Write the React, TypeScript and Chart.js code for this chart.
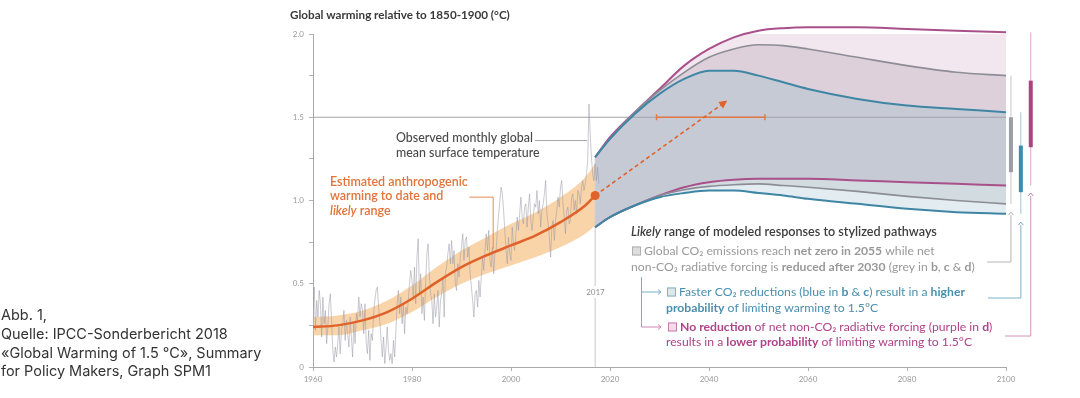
import React, { useEffect, useRef } from 'react';
import { Chart, registerables } from 'chart.js';

Chart.register(...registerables);

// ---------------- Data ----------------
const xTickYears = [1960, 1980, 2000, 2020, 2040, 2060, 2080, 2100];
const xTickLabels = ['1960', '1980', '2000', '2020', '2040', '2060', '2080', '2100'];
const yTickValues = [0, 0.25, 0.5, 0.75, 1, 1.25, 1.5, 1.75, 2];
const yTickLabels = ['0', '', '0.5', '', '1.0', '', '1.5', '', '2.0'];

// Observed monthly global mean surface temperature
const observedStartYear = 1960;
const observedStep = 0.25;
const obs1960s = [
  0.36, 0.48, 0.22, 0.40, 0.30, 0.46, 0.38, 0.18, 0.42, 0.26, 0.34, 0.14,
  0.24, 0.38, 0.44, 0.28, 0.10, 0.03, 0.12, 0.06, 0.14, 0.24, 0.08, 0.22,
  0.26, 0.34, 0.16, 0.28, 0.20, 0.12, 0.30, 0.18, 0.06, 0.26, 0.14, 0.32,
  0.28, 0.42, 0.30, 0.38,
];
const obs1970s = [
  0.34, 0.20, 0.38, 0.14, 0.08, 0.22, 0.04, 0.20, 0.16, 0.32, 0.40, 0.46,
  0.48, 0.36, 0.28, 0.16, 0.06, 0.18, 0.02, 0.12, 0.24, 0.10, 0.04, 0.08,
  0.02, 0.16, 0.06, 0.22, 0.38, 0.46, 0.32, 0.42, 0.26, 0.38, 0.20, 0.36,
  0.32, 0.40, 0.50, 0.58,
];
const obs1980s = [
  0.52, 0.42, 0.60, 0.38, 0.66, 0.77, 0.44, 0.56, 0.32, 0.42, 0.28, 0.50,
  0.68, 0.74, 0.56, 0.44, 0.40, 0.26, 0.44, 0.30, 0.36, 0.46, 0.24, 0.40,
  0.44, 0.54, 0.30, 0.56, 0.60, 0.68, 0.74, 0.62, 0.76, 0.62, 0.70, 0.50,
  0.46, 0.62, 0.54, 0.66,
];
const obs1990s = [
  0.72, 0.80, 0.64, 0.76, 0.78, 0.66, 0.72, 0.56, 0.48, 0.40, 0.30, 0.44,
  0.46, 0.36, 0.52, 0.42, 0.54, 0.66, 0.58, 0.70, 0.80, 0.70, 0.82, 0.64,
  0.60, 0.72, 0.56, 0.68, 0.70, 0.82, 0.92, 1.00, 1.08, 1.04, 0.94, 0.82,
  0.70, 0.62, 0.78, 0.68,
];
const obs2000s = [
  0.64, 0.84, 0.74, 0.70, 0.80, 0.90, 0.82, 0.92, 1.02, 0.90, 0.86, 0.96,
  0.98, 0.84, 0.96, 1.04, 0.88, 0.82, 0.90, 0.98, 0.96, 1.06, 0.92, 1.00,
  0.84, 0.94, 0.98, 1.04, 1.12, 0.92, 0.86, 0.78, 0.66, 0.84, 0.88, 0.76,
  0.88, 0.94, 1.02, 0.96,
];
const obs2010s = [
  1.08, 1.12, 0.98, 0.90, 0.80, 0.94, 0.96, 0.86, 0.88, 1.02, 1.04, 0.94,
  1.00, 0.92, 1.06, 1.04, 0.98, 1.08, 1.12, 1.06, 1.10, 1.16, 1.24, 1.58,
  1.40, 1.26, 1.16, 1.12, 1.22, 1.12, 1.20, 1.10,
];

// Estimated anthropogenic warming and likely range
const anthroYears = [1960, 1965, 1970, 1975, 1980, 1985, 1990, 1995, 2000, 2005, 2010, 2015, 2017];
const anthroCentral = [0.24, 0.25, 0.28, 0.33, 0.41, 0.51, 0.60, 0.67, 0.73, 0.79, 0.87, 0.97, 1.03];
const anthroLower = [0.19, 0.19, 0.22, 0.26, 0.33, 0.42, 0.50, 0.56, 0.61, 0.66, 0.72, 0.80, 0.85];
const anthroUpper = [0.30, 0.31, 0.34, 0.40, 0.49, 0.60, 0.70, 0.78, 0.86, 0.93, 1.02, 1.14, 1.22];

// Likely ranges of modelled responses to stylized pathways
const pathwayYears = [2017, 2020, 2025, 2030, 2035, 2040, 2045, 2050, 2055, 2060, 2070, 2080, 2090, 2100];
const purpleUpper = [1.26, 1.38, 1.53, 1.67, 1.81, 1.91, 1.98, 2.02, 2.035, 2.04, 2.04, 2.03, 2.02, 2.01];
const greyUpper = [1.26, 1.37, 1.53, 1.66, 1.77, 1.86, 1.91, 1.935, 1.93, 1.91, 1.86, 1.81, 1.77, 1.75];
const blueUpper = [1.26, 1.37, 1.52, 1.64, 1.73, 1.78, 1.78, 1.75, 1.71, 1.67, 1.61, 1.57, 1.55, 1.53];
const purpleLower = [0.84, 0.90, 0.97, 1.03, 1.08, 1.11, 1.125, 1.13, 1.13, 1.13, 1.12, 1.11, 1.10, 1.09];
const greyLower = [0.84, 0.90, 0.97, 1.03, 1.065, 1.085, 1.095, 1.10, 1.09, 1.08, 1.055, 1.025, 1.00, 0.98];
const blueLower = [0.84, 0.90, 0.97, 1.02, 1.045, 1.06, 1.06, 1.045, 1.03, 1.01, 0.98, 0.95, 0.93, 0.92];

// 2100 ranges (thin) and likely ranges (thick)
const greyRange2100 = [0.98, 1.75];
const greyLikely2100 = [1.17, 1.5];
const blueRange2100 = [0.92, 1.53];
const blueLikely2100 = [1.05, 1.33];
const purpleRange2100 = [1.09, 2.01];
const purpleLikely2100 = [1.32, 1.72];

const thresholdValue = 1.5;
const presentYear = 2017;
const presentBandTop = 1.26;
const projectionTarget = [2043.2, 1.59]; // year, warming at the dashed arrow tip
const crossingYears = [2029.4, 2051.3]; // likely range of years reaching 1.5 °C

// ---------------- Styles ----------------
const FONT = 'Lato, "Open Sans", sans-serif';
const CAPTION_FONT = 'Inter, "Liberation Sans", sans-serif';
const ORANGE = '#e0622a';
const PURPLE = '#a9508a';
const GREY = '#8d8d97';
const BLUE = '#3f86a5';

type Seg = { t: string; b?: boolean; i?: boolean };

function segFont(s: Seg, size: number, weight: string, family: string) {
  return `${s.i ? 'italic ' : ''}${s.b ? '700' : weight} ${size}px ${family}`;
}
function measureSegs(ctx: CanvasRenderingContext2D, segs: Seg[], size: number, weight: string, family: string) {
  let w = 0;
  for (const s of segs) {
    ctx.font = segFont(s, size, weight, family);
    w += ctx.measureText(s.t).width;
  }
  return w;
}
function fitSize(ctx: CanvasRenderingContext2D, segs: Seg[], target: number, weight = '400', family = FONT) {
  return (20 * target) / measureSegs(ctx, segs, 20, weight, family);
}
function drawSegs(
  ctx: CanvasRenderingContext2D,
  segs: Seg[],
  x: number,
  y: number,
  size: number,
  color: string,
  weight = '400',
  family = FONT,
) {
  let cx = x;
  ctx.fillStyle = color;
  ctx.textBaseline = 'middle';
  ctx.textAlign = 'left';
  for (const s of segs) {
    ctx.font = segFont(s, size, weight, family);
    ctx.fillText(s.t, cx, y);
    cx += ctx.measureText(s.t).width;
  }
  return cx;
}
function line(ctx: CanvasRenderingContext2D, pts: number[][], color: string, w = 1) {
  ctx.beginPath();
  ctx.moveTo(pts[0][0], pts[0][1]);
  for (let i = 1; i < pts.length; i++) ctx.lineTo(pts[i][0], pts[i][1]);
  ctx.strokeStyle = color;
  ctx.lineWidth = w;
  ctx.setLineDash([]);
  ctx.stroke();
}
function chevron(ctx: CanvasRenderingContext2D, x: number, y: number, dir: 'up' | 'right', color: string) {
  ctx.beginPath();
  if (dir === 'up') {
    ctx.moveTo(x - 2.5, y + 3);
    ctx.lineTo(x, y);
    ctx.lineTo(x + 2.5, y + 3);
  } else {
    ctx.moveTo(x - 3, y - 2.5);
    ctx.lineTo(x, y);
    ctx.lineTo(x - 3, y + 2.5);
  }
  ctx.strokeStyle = color;
  ctx.lineWidth = 1;
  ctx.stroke();
}

const legendTitle: Seg[] = [{ t: 'Likely', i: true }, { t: ' range of modeled responses to stylized pathways' }];
const greyLine1: Seg[] = [{ t: 'Global CO₂ emissions reach ' }, { t: 'net zero in 2055', b: true }, { t: ' while net' }];
const greyLine2: Seg[] = [
  { t: 'non-CO₂ radiative forcing is ' },
  { t: 'reduced after 2030', b: true },
  { t: ' (grey in ' },
  { t: 'b', b: true },
  { t: ', ' },
  { t: 'c', b: true },
  { t: ' & ' },
  { t: 'd', b: true },
  { t: ')' },
];
const blueLine1: Seg[] = [
  { t: 'Faster CO₂ reductions (blue in ' },
  { t: 'b', b: true },
  { t: ' & ' },
  { t: 'c', b: true },
  { t: ') result in a ' },
  { t: 'higher', b: true },
];
const blueLine2: Seg[] = [{ t: 'probability', b: true }, { t: ' of limiting warming to 1.5°C' }];
const purpleLine1: Seg[] = [
  { t: 'No reduction', b: true },
  { t: ' of net non-CO₂ radiative forcing (purple in ' },
  { t: 'd', b: true },
  { t: ')' },
];
const purpleLine2: Seg[] = [
  { t: 'results in a ' },
  { t: 'lower probability', b: true },
  { t: ' of limiting warming to 1.5°C' },
];
const captionLines = [
  'Abb. 1,',
  'Quelle: IPCC-Sonderbericht 2018',
  '«Global Warming of 1.5 °C», Summary',
  'for Policy Makers, Graph SPM1',
];

const overlayPlugin = {
  id: 'overlay',
  afterDraw(chart: any) {
    const ctx: CanvasRenderingContext2D = chart.ctx;
    const xs = chart.scales.x;
    const ys = chart.scales.y;
    const px = (v: number) => xs.getPixelForValue(v);
    const py = (v: number) => ys.getPixelForValue(v);
    ctx.save();

    // Title
    const titleSegs: Seg[] = [{ t: 'Global warming relative to 1850-1900 (°C)' }];
    drawSegs(ctx, titleSegs, 290, 15, fitSize(ctx, titleSegs, 220, '700'), '#3a3a3a', '700');

    // 2017 label
    ctx.fillStyle = '#ffffff';
    ctx.fillRect(px(presentYear) - 11, 286, 22, 12);
    drawSegs(ctx, [{ t: '2017' }], px(presentYear) - 9, 292, 8, '#8f8f8f');

    // Observed label + leader
    const obsA: Seg[] = [{ t: 'Observed monthly global' }];
    const obsSize = fitSize(ctx, obsA, 137, '500');
    drawSegs(ctx, obsA, 396, 137.5, obsSize, '#4a4a4a', '500');
    drawSegs(ctx, [{ t: 'mean surface temperature' }], 396, 153, obsSize, '#4a4a4a', '500');
    line(ctx, [[px(2004.8), py(1.36)], [px(2015.4), py(1.36)]], '#a5a5a5', 1);

    // Anthropogenic label + leader
    const estA: Seg[] = [{ t: 'Estimated anthropogenic' }];
    const estSize = fitSize(ctx, estA, 138, '600');
    drawSegs(ctx, estA, 330, 181.5, estSize, '#e2733a', '600');
    drawSegs(ctx, [{ t: 'warming to date and' }], 330, 196, estSize, '#e2733a', '600');
    drawSegs(ctx, [{ t: 'likely', i: true }, { t: ' range' }], 330, 211, estSize, '#e2733a', '600');
    line(ctx, [[px(1991.6), py(1.02)], [px(1996.4), py(1.02)], [px(1996.4), py(0.71)]], '#e58a55', 1);

    // Dashed arrow head
    {
      const x0 = px(presentYear), y0 = py(1.03);
      const x1 = px(projectionTarget[0]), y1 = py(projectionTarget[1]);
      const a = Math.atan2(y1 - y0, x1 - x0);
      ctx.save();
      ctx.translate(x1, y1);
      ctx.rotate(a);
      ctx.beginPath();
      ctx.moveTo(3, 0);
      ctx.lineTo(-5, -4);
      ctx.lineTo(-5, 4);
      ctx.closePath();
      ctx.fillStyle = ORANGE;
      ctx.fill();
      ctx.restore();
    }

    // Right-side brackets from whiskers to legend rows
    const gx = px(2101), bx = px(2103), ppx = px(2105);
    chevron(ctx, gx, py(0.93), 'up', '#a9a9ae');
    line(ctx, [[gx, py(0.93) + 3], [gx, 262], [987, 262]], '#b5b5ba', 1);
    chevron(ctx, bx, py(0.87), 'up', '#6fa6bd');
    line(ctx, [[bx, py(0.87) + 3], [bx, 298], [988, 298]], '#7db2c7', 1);
    chevron(ctx, ppx, py(1.045), 'up', '#c774a8');
    line(ctx, [[ppx, py(1.045) + 3], [ppx, 336], [1005, 336]], '#d690bd', 1);

    // Legend
    const legSize = fitSize(ctx, greyLine2, 344, '400');
    const titleSize = fitSize(ctx, legendTitle, 306, '600');
    drawSegs(ctx, legendTitle, 631, 232, titleSize, '#3d3d3d', '600');

    const box = (x: number, y: number, fill: string, stroke: string) => {
      ctx.fillStyle = fill;
      ctx.fillRect(x, y - 4.5, 9, 9);
      ctx.strokeStyle = stroke;
      ctx.lineWidth = 1;
      ctx.strokeRect(x + 0.5, y - 4, 8, 8);
    };
    box(632, 251, '#dddddd', '#b0b0b0');
    drawSegs(ctx, greyLine1, 644, 251, legSize, '#999999');
    drawSegs(ctx, greyLine2, 631, 267, legSize, '#999999');

    box(667, 292, '#dbe9ef', '#7fb0c4');
    drawSegs(ctx, blueLine1, 679, 292, legSize, '#4a8fae');
    drawSegs(ctx, blueLine2, 666, 308, legSize, '#4a8fae');

    box(668, 327, '#f4dceb', '#c57aa8');
    drawSegs(ctx, purpleLine1, 680, 327, legSize, '#b0428a');
    drawSegs(ctx, purpleLine2, 666, 342, legSize, '#b0428a');

    // Legend left brackets
    line(ctx, [[641.5, 277], [641.5, 327], [660, 327]], '#cf86b5', 1);
    chevron(ctx, 661, 327, 'right', '#cf86b5');
    line(ctx, [[641.5, 292], [660, 292]], '#7aaec4', 1);
    chevron(ctx, 661, 292, 'right', '#7aaec4');

    // Caption
    const capSize = fitSize(ctx, [{ t: captionLines[1] }], 227, '400', CAPTION_FONT);
    const capY = [316, 335, 354, 372];
    captionLines.forEach((t, i) => drawSegs(ctx, [{ t }], 1, capY[i], capSize, '#333333', '400', CAPTION_FONT));

    ctx.restore();
  },
};

const pts = (xv: number[], yv: number[]) => xv.map((x, i) => ({ x, y: yv[i] }));

export default function App() {
  const ref = useRef<HTMLCanvasElement>(null);

  useEffect(() => {
    const canvas = ref.current;
    if (!canvas) return;

    const observed = [...obs1960s, ...obs1970s, ...obs1980s, ...obs1990s, ...obs2000s, ...obs2010s];
    const observedPts = observed.map((v, i) => ({ x: observedStartYear + i * observedStep, y: v }));
    const lastAnthro = anthroYears.length - 1;

    const curve = (data: any, color: string, width: number, fill: any, bg: string, order: number, extra: any = {}) => ({
      data,
      borderColor: color,
      borderWidth: width,
      backgroundColor: bg,
      fill,
      order,
      cubicInterpolationMode: 'monotone',
      pointRadius: 0,
      ...extra,
    });

    const whisker = (range: number[], year: number, color: string, width: number, order: number) => ({
      data: [
        { x: year, y: range[0] },
        { x: year, y: range[1] },
      ],
      borderColor: color,
      borderWidth: width,
      borderCapStyle: 'butt',
      pointRadius: 0,
      fill: false,
      order,
      clip: false,
    });

    const datasets: any[] = [
      curve(pts(pathwayYears, purpleUpper), PURPLE, 2, 1, '#f2e6ef', 5, { clip: false }), // 0
      curve(pts(pathwayYears, greyUpper), GREY, 1.6, 2, '#ddd0da', 4), // 1
      curve(pts(pathwayYears, blueUpper), BLUE, 2, 3, '#c6cad5', 3), // 2
      curve(pts(pathwayYears, purpleLower), PURPLE, 2, 4, '#d2dce0', 5), // 3
      curve(pts(pathwayYears, greyLower), GREY, 1.6, 5, '#e2ecf1', 4), // 4
      curve(pts(pathwayYears, blueLower), BLUE, 2, false, 'transparent', 3), // 5
      curve(pts(anthroYears, anthroLower), 'transparent', 0, false, 'transparent', 7), // 6
      curve(pts(anthroYears, anthroUpper), 'transparent', 0, 6, 'rgba(243,172,90,0.52)', 7), // 7
      {
        data: observedPts,
        borderColor: 'rgba(150,150,164,0.5)',
        borderWidth: 1,
        pointRadius: 0,
        fill: false,
        order: 6,
      },
      curve(pts(anthroYears, anthroCentral), ORANGE, 2.5, false, ORANGE, 1, {
        pointRadius: (c: any) => (c.dataIndex === lastAnthro ? 4.5 : 0),
        pointBackgroundColor: ORANGE,
        pointBorderWidth: 0,
      }),
      {
        data: [
          { x: 1960, y: thresholdValue },
          { x: 2100, y: thresholdValue },
        ],
        borderColor: '#a3a3a9',
        borderWidth: 1,
        pointRadius: 0,
        fill: false,
        order: 8,
      },
      {
        data: [
          { x: presentYear, y: 0 },
          { x: presentYear, y: presentBandTop },
        ],
        borderColor: '#c9c9cc',
        borderWidth: 1,
        pointRadius: 0,
        fill: false,
        order: 8,
      },
      {
        data: [
          { x: presentYear, y: anthroCentral[lastAnthro] },
          { x: projectionTarget[0], y: projectionTarget[1] },
        ],
        borderColor: ORANGE,
        borderWidth: 1.6,
        borderDash: [4, 3],
        pointRadius: 0,
        fill: false,
        order: 1,
      },
      {
        data: [
          { x: crossingYears[0], y: thresholdValue },
          { x: crossingYears[1], y: thresholdValue },
        ],
        borderColor: '#e07b45',
        borderWidth: 1.5,
        pointRadius: 3,
        pointStyle: 'line',
        rotation: 90,
        pointBorderColor: '#e07b45',
        pointBorderWidth: 1.5,
        fill: false,
        order: 2,
      },
      whisker(greyRange2100, 2101, '#c6c6cb', 1, 2),
      whisker(blueRange2100, 2103, '#a3c6d5', 1, 2),
      whisker(purpleRange2100, 2105, '#dcaacb', 1, 2),
      whisker(greyLikely2100, 2101, '#9c9ca4', 4, 1),
      whisker(blueLikely2100, 2103, '#3f8bab', 4, 1),
      whisker(purpleLikely2100, 2105, '#a8447f', 4, 1),
    ];

    const tickFont = { family: FONT, size: 8 };

    const chart = new Chart(canvas, {
      type: 'line',
      data: { datasets },
      options: {
        animation: false,
        responsive: false,
        maintainAspectRatio: false,
        devicePixelRatio: 1,
        layout: { padding: { left: 273, right: 74, top: 34, bottom: 0 } },
        elements: {
          point: { radius: 0, hoverRadius: 0 },
          line: { capBezierPoints: false, borderJoinStyle: 'round' },
        },
        scales: {
          x: {
            type: 'linear',
            min: 1960,
            max: 2100,
            afterFit: (s: any) => {
              s.height = 31;
            },
            afterBuildTicks: (s: any) => {
              s.ticks = xTickYears.map((v) => ({ value: v }));
            },
            ticks: {
              autoSkip: false,
              maxRotation: 0,
              padding: 4,
              color: '#9a9a9a',
              font: tickFont,
              callback: (_v: any, i: number) => xTickLabels[i],
            },
            grid: { drawOnChartArea: false, tickLength: 4, color: '#b3b3b3' },
            border: { color: '#a9a9a9' },
          },
          y: {
            type: 'linear',
            min: 0,
            max: 2,
            afterFit: (s: any) => {
              s.width = 40;
            },
            afterBuildTicks: (s: any) => {
              s.ticks = yTickValues.map((v) => ({ value: v }));
            },
            ticks: {
              autoSkip: false,
              padding: 5,
              color: '#9a9a9a',
              font: tickFont,
              callback: (_v: any, i: number) => yTickLabels[i],
            },
            grid: { drawOnChartArea: false, tickLength: 4, color: '#b3b3b3' },
            border: { color: '#a9a9a9' },
          },
        },
        plugins: {
          legend: { display: false },
          tooltip: { enabled: false },
          title: { display: false },
          filler: { drawTime: 'beforeDatasetsDraw', propagate: false },
        },
      } as any,
      plugins: [overlayPlugin],
    });

    return () => chart.destroy();
  }, []);

  return (
    <div style={{ position: 'fixed', left: 0, top: 0, width: 1080, height: 398, background: '#ffffff' }}>
      <canvas ref={ref} width={1080} height={398} style={{ display: 'block', width: 1080, height: 398 }} />
    </div>
  );
}
